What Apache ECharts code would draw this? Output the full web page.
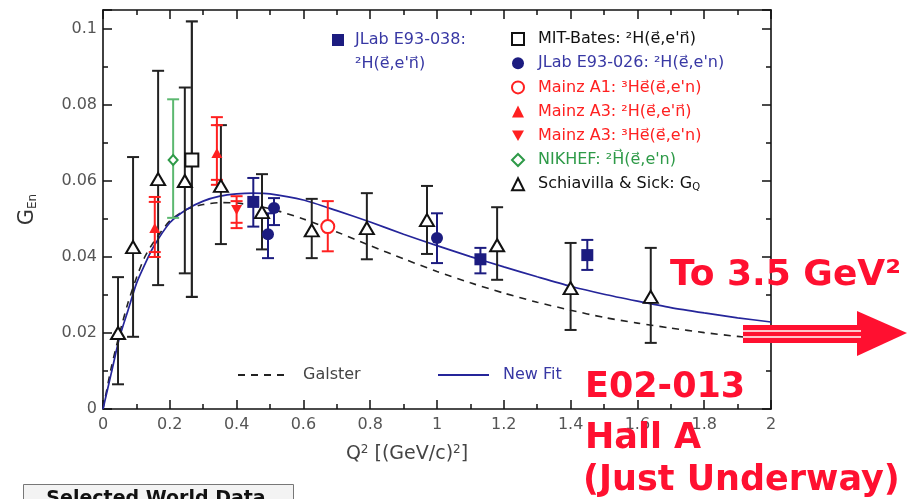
<!DOCTYPE html>
<html>
<head>
<meta charset="utf-8">
<script src="https://cdn.jsdelivr.net/npm/echarts@6/dist/echarts.min.js"></script>
<style>
html,body{margin:0;padding:0;background:#fff;}
#chart{width:916px;height:499px;}
</style>
</head>
<body>
<div id="chart"></div>
<script>
// ---- Curves ----
const galsterX = [0, 0.025, 0.05, 0.075, 0.1, 0.125, 0.15, 0.2, 0.25, 0.3, 0.35, 0.4, 0.5, 0.6, 0.7, 0.8, 0.9, 1.0, 1.1, 1.2, 1.3, 1.4, 1.5, 1.6, 1.7, 1.8, 1.9, 2.0];
const galsterY = [0, 0.011, 0.020, 0.028, 0.0345, 0.040, 0.0437, 0.0495, 0.0525, 0.0538, 0.0543, 0.0542, 0.0527, 0.0500, 0.0466, 0.0430, 0.0395, 0.0362, 0.0332, 0.0305, 0.0281, 0.0260, 0.0241, 0.0226, 0.0213, 0.0201, 0.0191, 0.0182];
const fitX = [0, 0.025, 0.05, 0.075, 0.1, 0.125, 0.15, 0.2, 0.25, 0.3, 0.35, 0.4, 0.45, 0.5, 0.6, 0.7, 0.8, 0.9, 1.0, 1.1, 1.2, 1.3, 1.4, 1.5, 1.6, 1.7, 1.8, 1.9, 2.0];
const fitY = [0, 0.0095, 0.019, 0.026, 0.033, 0.038, 0.0425, 0.049, 0.0525, 0.0547, 0.0560, 0.0566, 0.0568, 0.0566, 0.0550, 0.0522, 0.0492, 0.0460, 0.0430, 0.0401, 0.0374, 0.0348, 0.0323, 0.0302, 0.0284, 0.0267, 0.0253, 0.0240, 0.0229];

// ---- Data sets ----
const jlab038X  = [0.45, 1.13, 1.45];
const jlab038Y  = [0.0545, 0.0394, 0.0405];
const jlab038Lo = [0.048, 0.0357, 0.0366];
const jlab038Hi = [0.0608, 0.0424, 0.0445];

const mitX  = [0.266];
const mitY  = [0.0655];
const mitLo = [0.0295];
const mitHi = [0.102];

const jlab026X  = [0.494, 0.512, 1.0];
const jlab026Y  = [0.046, 0.0529, 0.045];
const jlab026Lo = [0.0397, 0.0484, 0.0384];
const jlab026Hi = [0.0515, 0.0555, 0.0515];

const mainzA1X  = [0.673];
const mainzA1Y  = [0.048];
const mainzA1Lo = [0.0415];
const mainzA1Hi = [0.0547];

const mainzA3dX  = [0.155, 0.341];
const mainzA3dY  = [0.0476, 0.0674];
const mainzA3dLo = [0.040, 0.059];
const mainzA3dHi = [0.0558, 0.0768];
const mainzA3dInLo = [0.0413, 0.0603];
const mainzA3dInHi = [0.0545, 0.0747];

const mainzA3hX  = [0.40];
const mainzA3hY  = [0.0524];
const mainzA3hLo = [0.0476];
const mainzA3hHi = [0.056];
const mainzA3hInLo = [0.049];
const mainzA3hInHi = [0.0547];

const nikhefX  = [0.21];
const nikhefY  = [0.0655];
const nikhefLo = [0.0503];
const nikhefHi = [0.0815];

const schX  = [0.045, 0.09, 0.165, 0.245, 0.353, 0.476, 0.625, 0.79, 0.97, 1.18, 1.40, 1.64];
const schY  = [0.020, 0.0426, 0.0605, 0.060, 0.0587, 0.0518, 0.047, 0.0476, 0.0497, 0.0431, 0.0318, 0.0295];
const schLo = [0.0065, 0.019, 0.0326, 0.0357, 0.0434, 0.042, 0.0397, 0.0394, 0.0408, 0.034, 0.0208, 0.0174];
const schHi = [0.0347, 0.0663, 0.089, 0.0846, 0.0747, 0.0618, 0.0553, 0.0568, 0.0587, 0.0531, 0.0437, 0.0424];

// ---- Tick labels ----
const xTicks = [0, 0.2, 0.4, 0.6, 0.8, 1, 1.2, 1.4, 1.6, 1.8, 2];
const yTicks = [0, 0.02, 0.04, 0.06, 0.08, 0.1];

const NAVY = '#1c1c80', BLUE_TXT = '#3838a4', RED = '#ff2020', GREEN = '#2e9a48', GREEN_BAR = '#5cb870', BLACK = '#111';
const FONT = 'DejaVu Sans';

function pairs(xs, ys) { return xs.map((x, i) => [x, ys[i]]); }
function errData(xs, ys, lo, hi, inLo, inHi) {
  return xs.map((x, i) => inLo ? [x, ys[i], lo[i], hi[i], inLo[i], inHi[i]] : [x, ys[i], lo[i], hi[i]]);
}
function errRender(color, width, half) {
  return function (params, api) {
    const x = api.value(0);
    const lo = api.coord([x, api.value(2)]);
    const hi = api.coord([x, api.value(3)]);
    const st = { stroke: color, lineWidth: width };
    const ch = [
      { type: 'line', shape: { x1: lo[0], y1: lo[1], x2: hi[0], y2: hi[1] }, style: st },
      { type: 'line', shape: { x1: lo[0] - half, y1: lo[1], x2: lo[0] + half, y2: lo[1] }, style: st },
      { type: 'line', shape: { x1: hi[0] - half, y1: hi[1], x2: hi[0] + half, y2: hi[1] }, style: st }
    ];
    const v4 = api.value(4), v5 = api.value(5);
    if (v4 != null && !isNaN(v4)) {
      const a = api.coord([x, v4]), b = api.coord([x, v5]);
      ch.push({ type: 'line', shape: { x1: a[0] - half, y1: a[1], x2: a[0] + half, y2: a[1] }, style: st });
      ch.push({ type: 'line', shape: { x1: b[0] - half, y1: b[1], x2: b[0] + half, y2: b[1] }, style: st });
    }
    return { type: 'group', children: ch };
  };
}
function errSeries(id, data, color, width, half) {
  return { type: 'custom', name: id + ' err', data: data, renderItem: errRender(color, width, half), z: 2, silent: true };
}

const DOWN_TRI = 'path://M0,0L10,0L5,8.66Z';

function axisCommon() {
  return {
    axisLine: { show: true, onZero: false, lineStyle: { color: BLACK, width: 1.6 } },
    axisTick: { show: true, inside: true, length: 9, lineStyle: { color: BLACK, width: 1.5 } },
    minorTick: { show: true, splitNumber: 2, length: 5, lineStyle: { color: BLACK, width: 1.5 } },
    splitLine: { show: false }
  };
}

const chart = echarts.init(document.getElementById('chart'));
const option = {
  animation: false,
  backgroundColor: '#fff',
  grid: { left: 103, right: 145, top: 10, bottom: 90 },
  xAxis: [
    Object.assign({
      type: 'value', min: 0, max: 2, interval: 0.2, position: 'bottom',
      axisLabel: { color: '#555', fontFamily: FONT, fontSize: 16, margin: 8,
        formatter: v => { const t = xTicks.find(k => Math.abs(k - v) < 1e-9); return t === undefined ? '' : String(t); } },
      name: 'Q{sup|2} [(GeV/c){sup|2}]', nameLocation: 'middle', nameGap: 35,
      nameTextStyle: { color: '#444', fontFamily: FONT, fontSize: 19, padding: [0, 60, 0, 0],
        rich: { sup: { fontSize: 12, color: '#444', fontFamily: FONT, padding: [0, 0, 9, 0] } } }
    }, axisCommon()),
    Object.assign({
      type: 'value', min: 0, max: 2, interval: 0.2, position: 'top', axisLabel: { show: false }
    }, axisCommon())
  ],
  yAxis: [
    Object.assign({
      type: 'value', min: 0, max: 0.105, interval: 0.02, position: 'left',
      axisLabel: { color: '#555', fontFamily: FONT, fontSize: 16, margin: 6, showMaxLabel: false,
        formatter: v => { const t = yTicks.find(k => Math.abs(k - v) < 1e-9); return t === undefined ? '' : String(t); } },
      name: '{g|G}{s|En}', nameLocation: 'middle', nameRotate: 90, nameGap: 64,
      nameTextStyle: { color: '#333', fontFamily: FONT,
        rich: { g: { fontSize: 21, color: '#333', fontFamily: FONT }, s: { fontSize: 12, color: '#333', fontFamily: FONT, padding: [10, 0, 0, 0] } } }
    }, axisCommon()),
    Object.assign({
      type: 'value', min: 0, max: 0.105, interval: 0.02, position: 'right', axisLabel: { show: false }
    }, axisCommon())
  ],
  legend: [
    {
      left: 332, top: 32, padding: 0, orient: 'vertical', itemWidth: 12, itemHeight: 12, selectedMode: false,
      textStyle: { fontFamily: FONT, fontSize: 16, lineHeight: 14, padding: [0, 0, 0, 6] },
      data: [{ name: 'JLab E93-038', textStyle: { color: BLUE_TXT } }],
      formatter: n => n + ':'
    },
    {
      left: 511, top: 31, padding: 0, orient: 'vertical', itemWidth: 12, itemHeight: 12, itemGap: 8.2, selectedMode: false,
      textStyle: { fontFamily: FONT, fontSize: 16, lineHeight: 14, padding: [0, 0, 0, 9],
        rich: { sub: { fontSize: 10, lineHeight: 14, padding: [6, 0, 0, 0] } } },
      data: [
        { name: 'MIT-Bates', textStyle: { color: BLACK } },
        { name: 'JLab E93-026', textStyle: { color: BLUE_TXT } },
        { name: 'Mainz A1', textStyle: { color: RED } },
        { name: 'Mainz A3 d', textStyle: { color: RED } },
        { name: 'Mainz A3 He', textStyle: { color: RED } },
        { name: 'NIKHEF', textStyle: { color: GREEN } },
        { name: 'Schiavilla & Sick', textStyle: { color: BLACK } }
      ],
      formatter: function (n) {
        return {
          'MIT-Bates': 'MIT-Bates: \u00b2H(e\u20d7,e\'n\u20d7)',
          'JLab E93-026': 'JLab E93-026: \u00b2H(e\u20d7,e\'n)',
          'Mainz A1': 'Mainz A1: \u00b3He\u20d7(e\u20d7,e\'n)',
          'Mainz A3 d': 'Mainz A3: \u00b2H(e\u20d7,e\'n\u20d7)',
          'Mainz A3 He': 'Mainz A3: \u00b3He\u20d7(e\u20d7,e\'n)',
          'NIKHEF': 'NIKHEF: \u00b2H\u20d7(e\u20d7,e\'n)',
          'Schiavilla & Sick': 'Schiavilla & Sick: G{sub|Q}'
        }[n];
      }
    },
    {
      left: 237, top: 367, padding: 0, itemWidth: 51, itemHeight: 12, selectedMode: false,
      itemStyle: { opacity: 0 },
      textStyle: { fontFamily: FONT, fontSize: 16, color: '#444', padding: [0, 0, 0, 9] },
      data: [{ name: 'Galster', textStyle: { color: '#444' } }]
    },
    {
      left: 437, top: 367, padding: 0, itemWidth: 51, itemHeight: 12, selectedMode: false,
      itemStyle: { opacity: 0 },
      textStyle: { fontFamily: FONT, fontSize: 16, padding: [0, 0, 0, 9] },
      data: [{ name: 'New Fit', textStyle: { color: BLUE_TXT } }]
    }
  ],
  series: [
    { type: 'line', name: 'Galster', data: pairs(galsterX, galsterY), smooth: 0.25, symbol: 'none', showSymbol: false, z: 1,
      lineStyle: { color: '#222', width: 1.6, type: [7, 6] }, itemStyle: { color: '#222' } },
    { type: 'line', name: 'New Fit', data: pairs(fitX, fitY), smooth: 0.25, symbol: 'none', showSymbol: false, z: 1,
      lineStyle: { color: '#25259a', width: 1.7 }, itemStyle: { color: '#25259a' } },

    errSeries('sch', errData(schX, schY, schLo, schHi), '#222', 2, 6),
    errSeries('mit', errData(mitX, mitY, mitLo, mitHi), '#222', 2.2, 6),
    errSeries('nikhef', errData(nikhefX, nikhefY, nikhefLo, nikhefHi), GREEN_BAR, 2, 6),
    errSeries('a3d', errData(mainzA3dX, mainzA3dY, mainzA3dLo, mainzA3dHi, mainzA3dInLo, mainzA3dInHi), RED, 2, 6),
    errSeries('a3h', errData(mainzA3hX, mainzA3hY, mainzA3hLo, mainzA3hHi, mainzA3hInLo, mainzA3hInHi), RED, 2, 6),
    errSeries('a1', errData(mainzA1X, mainzA1Y, mainzA1Lo, mainzA1Hi), RED, 2, 6),
    errSeries('j038', errData(jlab038X, jlab038Y, jlab038Lo, jlab038Hi), NAVY, 2, 6),
    errSeries('j026', errData(jlab026X, jlab026Y, jlab026Lo, jlab026Hi), NAVY, 2, 6),

    { type: 'scatter', name: 'Schiavilla & Sick', data: pairs(schX, schY), symbol: 'triangle', symbolSize: [14, 12], z: 3,
      itemStyle: { color: '#fff', borderColor: BLACK, borderWidth: 2, opacity: 1 } },
    { type: 'scatter', name: 'MIT-Bates', data: pairs(mitX, mitY), symbol: 'rect', symbolSize: 13, z: 3,
      itemStyle: { color: '#fff', borderColor: BLACK, borderWidth: 2, opacity: 1 } },
    { type: 'scatter', name: 'NIKHEF', data: pairs(nikhefX, nikhefY), symbol: 'diamond', symbolSize: [9, 10], z: 3,
      itemStyle: { color: '#fff', borderColor: GREEN, borderWidth: 2, opacity: 1 } },
    { type: 'scatter', name: 'Mainz A3 d', data: pairs(mainzA3dX, mainzA3dY), symbol: 'triangle', symbolSize: [11, 10], z: 3,
      itemStyle: { color: RED, opacity: 1 } },
    { type: 'scatter', name: 'Mainz A3 He', data: pairs(mainzA3hX, mainzA3hY), symbol: DOWN_TRI, symbolSize: [11, 10], z: 3,
      itemStyle: { color: RED, opacity: 1 } },
    { type: 'scatter', name: 'Mainz A1', data: pairs(mainzA1X, mainzA1Y), symbol: 'circle', symbolSize: 13, z: 3,
      itemStyle: { color: '#fff', borderColor: RED, borderWidth: 2, opacity: 1 } },
    { type: 'scatter', name: 'JLab E93-038', data: pairs(jlab038X, jlab038Y), symbol: 'rect', symbolSize: 12, z: 3,
      itemStyle: { color: NAVY, opacity: 1 } },
    { type: 'scatter', name: 'JLab E93-026', data: pairs(jlab026X, jlab026Y), symbol: 'circle', symbolSize: 12, z: 3,
      itemStyle: { color: NAVY, opacity: 1 } }
  ],
  graphic: [
    { type: 'text', left: 355, top: 56, z: 10,
      style: { text: '\u00b2H(e\u20d7,e\'n\u20d7)', fill: BLUE_TXT, font: '16px "DejaVu Sans"' } },
    // arrow
    { type: 'rect', shape: { x: 743, y: 325, width: 118, height: 18 }, style: { fill: '#ff1030' }, z: 10 },
    { type: 'line', shape: { x1: 743, y1: 331, x2: 861, y2: 331 }, style: { stroke: '#fff', lineWidth: 1.3 }, z: 11 },
    { type: 'line', shape: { x1: 743, y1: 337, x2: 861, y2: 337 }, style: { stroke: '#fff', lineWidth: 1.3 }, z: 11 },
    { type: 'polygon', shape: { points: [[857, 311], [907, 333], [857, 356]] }, style: { fill: '#ff1030' }, z: 10 },
    { type: 'text', x: 670, y: 276, z: 12,
      style: { text: 'To 3.5 GeV\u00b2', fill: '#ff1030', font: 'bold 36px "DejaVu Sans"', verticalAlign: 'middle' } },
    { type: 'text', x: 585, y: 388, z: 12,
      style: { text: 'E02-013', fill: '#ff1030', font: 'bold 35px "DejaVu Sans"', verticalAlign: 'middle' } },
    { type: 'text', x: 585, y: 439, z: 12,
      style: { text: 'Hall A', fill: '#ff1030', font: 'bold 35px "DejaVu Sans"', verticalAlign: 'middle' } },
    { type: 'text', x: 583, y: 481, z: 12,
      style: { text: '(Just Underway)', fill: '#ff1030', font: 'bold 35px "DejaVu Sans"', verticalAlign: 'middle' } },
    // Selected World Data box
    { type: 'rect', shape: { x: 23.5, y: 484.5, width: 270, height: 30 }, style: { fill: '#f3f3f3', stroke: '#777', lineWidth: 1 }, z: 10 },
    { type: 'text', x: 156, y: 499, z: 11,
      style: { text: 'Selected World Data', fill: '#111', font: 'bold 19px "DejaVu Sans"', align: 'center', verticalAlign: 'middle' } }
  ]
};
chart.setOption(option);
</script>
</body>
</html>
